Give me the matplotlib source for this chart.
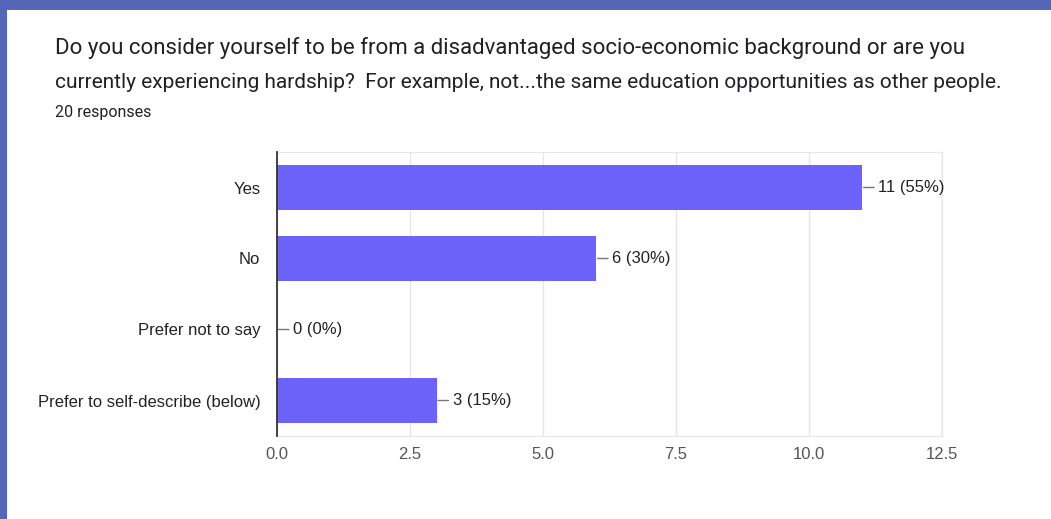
import matplotlib.pyplot as plt
from matplotlib.patches import Rectangle

categories = ['Yes', 'No', 'Prefer not to say', 'Prefer to self-describe (below)']
counts = [11, 6, 0, 3]
total_responses = 20
x_ticks = [0.0, 2.5, 5.0, 7.5, 10.0, 12.5]

title_lines = [
    'Do you consider yourself to be from a disadvantaged socio-economic background or are you',
    'currently experiencing hardship?  For example, not...the same education opportunities as other people.',
]

plt.rcParams['font.family'] = ['Roboto', 'DejaVu Sans']
label_font = ['Liberation Sans', 'DejaVu Sans']

fig = plt.figure(figsize=(10.51, 5.19), dpi=100)
fig.patch.set_facecolor('white')

# frame band along the top and left edges
fig.patches.append(Rectangle((0, 1 - 10 / 519), 1, 10 / 519, transform=fig.transFigure,
                             facecolor='#5565b8', edgecolor='none', zorder=0))
fig.patches.append(Rectangle((0, 0), 7 / 1051, 1, transform=fig.transFigure,
                             facecolor='#5565b8', edgecolor='none', zorder=0))

fig.text(55 / 1051, 1 - 48 / 519, title_lines[0], fontsize=16, color='#202124', va='center')
fig.text(55 / 1051, 1 - 83 / 519, title_lines[1], fontsize=15, color='#202124', va='center')
fig.text(55 / 1051, 1 - 112 / 519, f'{total_responses} responses', fontsize=11.5,
         color='#202124', va='center')

ax = fig.add_axes([277 / 1051, 1 - 436 / 519, 665 / 1051, 284 / 519])
ypos = list(range(len(categories)))
ax.barh(ypos, counts, height=0.63, color='#6b63fa', zorder=2)
ax.set_ylim(len(categories) - 0.5, -0.5)
ax.set_xlim(0, 12.5)
ax.set_xticks(x_ticks)
ax.set_xticklabels([f'{t:.1f}' for t in x_ticks], fontsize=12, color='#555555',
                   family=label_font)
ax.set_yticks(ypos)
ax.set_yticklabels(categories, fontsize=12, color='#222222', family=label_font)
ax.tick_params(axis='x', length=0, pad=8)
ax.tick_params(axis='y', length=0, pad=12)
ax.grid(axis='x', color='#e6e6e6', lw=1, zorder=0)

for side in ['top', 'right', 'bottom']:
    ax.spines[side].set_color('#e6e6e6')
ax.spines['left'].set_color('#333333')
ax.spines['left'].set_linewidth(1.3)
ax.spines['left'].set_zorder(3)

for i, c in enumerate(counts):
    pct = round(100 * c / total_responses)
    ax.annotate(f'{c} ({pct}%)', xy=(c, i), xytext=(16, 0), textcoords='offset pixels',
                ha='left', va='center', fontsize=12, color='#222222', family=label_font,
                arrowprops=dict(arrowstyle='-', color='#777777', lw=1,
                                shrinkA=1, shrinkB=1))

fig.savefig('out.png', dpi=100)
